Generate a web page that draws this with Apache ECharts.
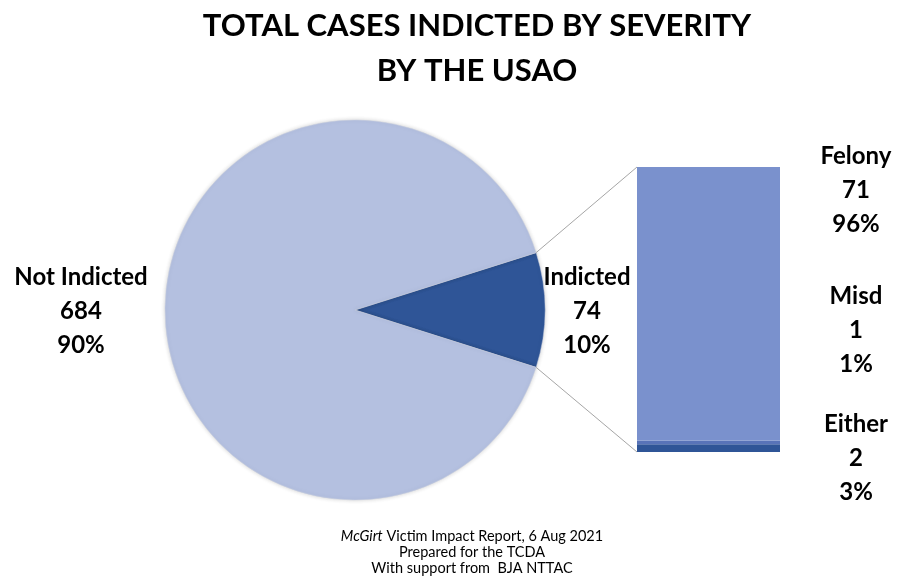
<!DOCTYPE html>
<html>
<head>
<meta charset="utf-8">
<title>Total Cases Indicted by Severity by the USAO</title>
<script src="https://cdn.jsdelivr.net/npm/echarts@6/dist/echarts.min.js"></script>
<style>
  html, body { margin: 0; padding: 0; background: #ffffff; }
  #chart { width: 898px; height: 585px; }
</style>
</head>
<body>
<div id="chart"></div>
<script>
// Pie: all cases split by whether they were indicted
const pieNames = ['Indicted', 'Not Indicted'];
const pieValues = [74, 684];

// Bar: indicted cases broken down by severity (stacked bottom to top)
const barNames = ['Either', 'Misd', 'Felony'];
const barValues = [2, 1, 71];

const titleLines = ['TOTAL CASES INDICTED BY SEVERITY', 'BY THE USAO'];
const footerLines = ['McGirt', ' Victim Impact Report, 6 Aug 2021', 'Prepared for the TCDA', 'With support from  BJA NTTAC'];

const FONT = 'Lato, "Open Sans", sans-serif';
const pieCenter = [355, 310];
const pieRadius = 190;
const pieColors = ['#2F5597', '#B4C0E0'];
const barColors = ['#2F5597', '#5873B8', '#7A91CD'];

const pieTotal = pieValues.reduce((a, b) => a + b, 0);
const barTotal = barValues.reduce((a, b) => a + b, 0);
const pct = (v, t) => Math.round(v / t * 100) + '%';
// Put the indicted wedge symmetric about the 3 o'clock direction
const halfAngle = pieValues[0] / pieTotal * 180;

const chart = echarts.init(document.getElementById('chart'), null, { renderer: 'canvas' });

const labelStyle = {
  fontFamily: FONT, fontWeight: 'bold', fontSize: 24, lineHeight: 34,
  fill: '#000000', textAlign: 'center', textVerticalAlign: 'middle'
};

const option = {
  backgroundColor: '#ffffff',
  animation: false,
  title: {
    text: titleLines.join('\n'),
    left: 472, top: -2, textAlign: 'center',
    textStyle: { fontFamily: FONT, fontWeight: 'bold', fontSize: 31, lineHeight: 45, color: '#000000' }
  },
  grid: { left: 637, top: 167, width: 143, height: 285 },
  xAxis: { type: 'category', data: ['Indicted'], show: false },
  yAxis: { type: 'value', min: 0, max: barTotal, show: false },
  series: [
    {
      type: 'pie',
      center: pieCenter,
      radius: pieRadius,
      startAngle: halfAngle,
      clockwise: true,
      label: { show: false },
      labelLine: { show: false },
      emphasis: { disabled: true },
      itemStyle: { borderColor: '#c9cfdf', borderWidth: 0.5, shadowBlur: 4, shadowColor: 'rgba(0,0,0,0.18)' },
      data: pieNames.map((n, i) => ({ name: n, value: pieValues[i], itemStyle: { color: pieColors[i] } }))
    }
  ].concat(barNames.map((n, i) => ({
    type: 'bar',
    name: n,
    stack: 'severity',
    barWidth: '100%',
    emphasis: { disabled: true },
    itemStyle: { color: barColors[i] },
    data: [barValues[i]]
  }))),
  graphic: []
};

chart.setOption(option);

// Connector lines from the indicted wedge edges to the bar corners
const rad = halfAngle * Math.PI / 180;
const wedgeTop = [pieCenter[0] + pieRadius * Math.cos(rad), pieCenter[1] - pieRadius * Math.sin(rad)];
const wedgeBottom = [pieCenter[0] + pieRadius * Math.cos(rad), pieCenter[1] + pieRadius * Math.sin(rad)];
const barTop = chart.convertToPixel({ gridIndex: 0 }, [0, barTotal]);
const barBottom = chart.convertToPixel({ gridIndex: 0 }, [0, 0]);
const barLeft = 637;

const graphics = [
  { type: 'line', shape: { x1: wedgeTop[0], y1: wedgeTop[1], x2: barLeft, y2: barTop[1] }, style: { stroke: '#A6A6A6', lineWidth: 1 }, z: 5 },
  { type: 'line', shape: { x1: wedgeBottom[0], y1: wedgeBottom[1], x2: barLeft, y2: barBottom[1] }, style: { stroke: '#A6A6A6', lineWidth: 1 }, z: 5 }
];

// Pie data labels
const pieLabelPos = [[587, 311], [81, 311]];
pieNames.forEach((n, i) => {
  graphics.push({
    type: 'text', x: pieLabelPos[i][0], y: pieLabelPos[i][1], z: 10,
    style: Object.assign({ text: [n, pieValues[i], pct(pieValues[i], pieTotal)].join('\n') }, labelStyle)
  });
});

// Bar data labels, stacked down the right side
const barLabelY = { Felony: 190, Misd: 330, Either: 458 };
barNames.forEach((n, i) => {
  graphics.push({
    type: 'text', x: 856, y: barLabelY[n], z: 10,
    style: Object.assign({ text: [n, barValues[i], pct(barValues[i], barTotal)].join('\n') }, labelStyle)
  });
});

// Source note
graphics.push({
  type: 'text', x: 472, y: 552, z: 10,
  style: {
    text: '{i|' + footerLines[0] + '}' + footerLines[1] + '\n' + footerLines[2] + '\n' + footerLines[3],
    fontFamily: FONT, fontSize: 14.5, lineHeight: 16, fill: '#000000',
    textAlign: 'center', textVerticalAlign: 'middle',
    rich: { i: { fontFamily: FONT, fontSize: 14.5, fontStyle: 'italic', lineHeight: 16 } }
  }
});

chart.setOption({ graphic: graphics });
</script>
</body>
</html>
